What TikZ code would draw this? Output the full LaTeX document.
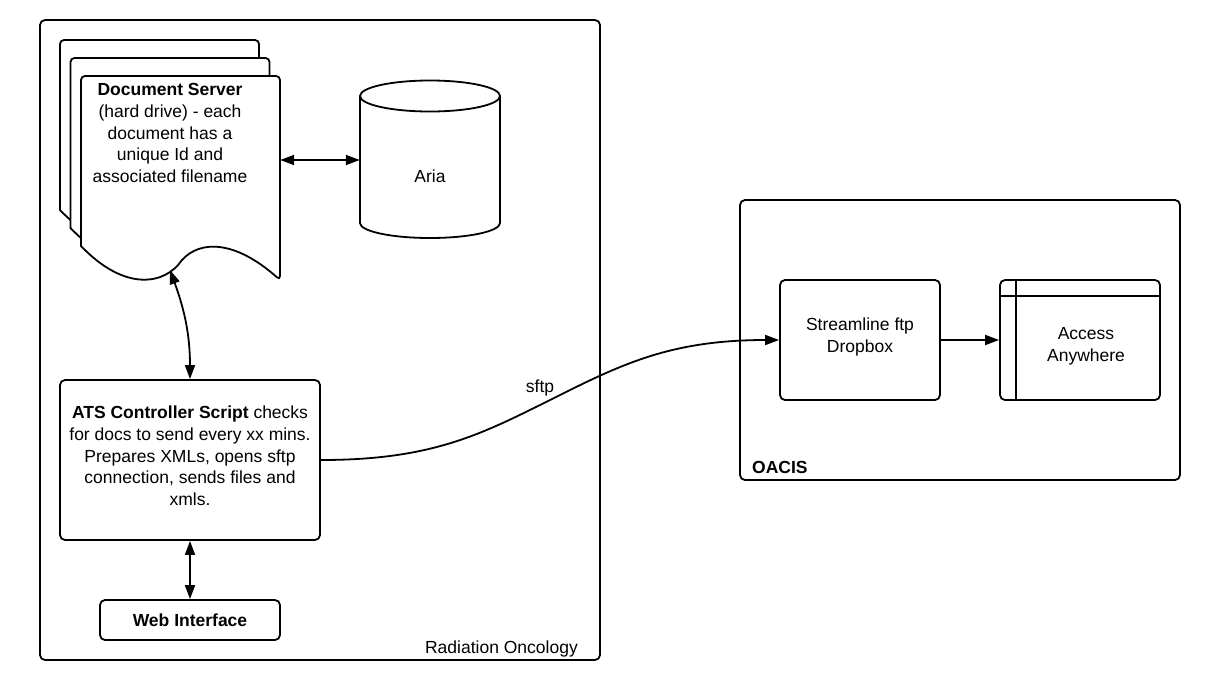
\documentclass[tikz,border=0pt]{standalone}
\usepackage{fontspec}
\setmainfont{Liberation Sans}
\usetikzlibrary{arrows.meta,calc}
\begin{document}
\begin{tikzpicture}[x=1pt,y=-1pt,
  every node/.style={font=\fontsize{17.5}{21.7}\selectfont, inner sep=0pt},
  ln/.style={line width=1.8pt},
  container/.style={ln, draw, rounded corners=5pt},
  box/.style={ln, draw, rounded corners=5pt, fill=white},
  conn/.style={ln, {Triangle[length=14pt,width=10pt]}-{Triangle[length=14pt,width=10pt]}},
  conn1/.style={ln, -{Triangle[length=14pt,width=10pt]}},
  docpage/.pic={
    \draw[ln, fill=white, rounded corners=4pt] (0,170) -- (0,0) -- (199,0) -- (199,204)
      [sharp corners] .. controls (154,164) and (119,164) .. (101,184)
      .. controls (84,209) and (44,216) .. (0,170) -- cycle;
  }
]
\useasboundingbox (0,0) rectangle (1205,694);

% containers
\draw[container] (40,20) rectangle (600,660);
\node[anchor=base east] (radlabel) at (578,653) {Radiation Oncology};
\draw[container] (740,200) rectangle (1180,480);
\node[anchor=west, font=\fontsize{17.5}{21.7}\selectfont\bfseries] (oacislabel) at (752,467) {OACIS};

% document stack
\pic at (60,40) {docpage};
\pic at (70.5,58) {docpage};
\pic at (81,76) {docpage};
\node[minimum width=199pt, minimum height=204pt] (doc) at (180.5,178) {};
\node[align=center] (doctext) at (170,133) {\textbf{Document Server}\\(hard drive) - each\\document has a\\unique Id and\\associated filename};
\coordinate (docwave) at (170,270);

% Aria cylinder
\node[minimum width=140pt, minimum height=158pt] (aria) at (430,159) {};
\draw[ln, fill=white] (360,96) -- (360,223) arc[start angle=180, end angle=0, x radius=70, y radius=15] -- (500,96);
\draw[ln, fill=white] (430,96) ellipse[x radius=70, y radius=15.5];
\node (arialabel) at (430,176) {Aria};

% ATS controller
\node[box, minimum width=260pt, minimum height=160pt] (ats) at (190,460) {};
\node[align=center] (atstext) at (190,456) {\textbf{ATS Controller Script} checks\\for docs to send every xx mins.\\Prepares XMLs, opens sftp\\connection, sends files and\\xmls.};

% Web interface
\node[box, minimum width=180pt, minimum height=40pt, font=\fontsize{17.5}{21.7}\selectfont\bfseries] (web) at (190,620) {Web Interface};

% OACIS boxes
\node[box, minimum width=160pt, minimum height=120pt] (stream) at (860,340) {};
\node[align=center] (streamtext) at (860,337) {Streamline ftp\\Dropbox};
\node[box, minimum width=160pt, minimum height=120pt] (access) at (1080,340) {};
\draw[ln] (1016,280) -- (1016,400);
\draw[ln] (1000,296) -- (1160,296);
\node[align=center] (accesstext) at (1086,346) {Access\\Anywhere};

% connectors
\draw[conn] ([yshift=18pt]doc.east) -- ([yshift=-1pt]aria.west);
\draw[conn] (docwave) to[out=-70,in=90] (ats.north);
\draw[conn] (ats.south) -- (web.north);
\coordinate (sftpmid) at (550,400);
\draw[conn1] (ats.east) .. controls +(110,0) and +(-70,35) .. (sftpmid)
  .. controls +(70,-35) and +(-110,0) .. (stream.west);
\node (sftplabel) at (540,388) {sftp};
\draw[conn1] (stream.east) -- (access.west);
\end{tikzpicture}
\end{document}
